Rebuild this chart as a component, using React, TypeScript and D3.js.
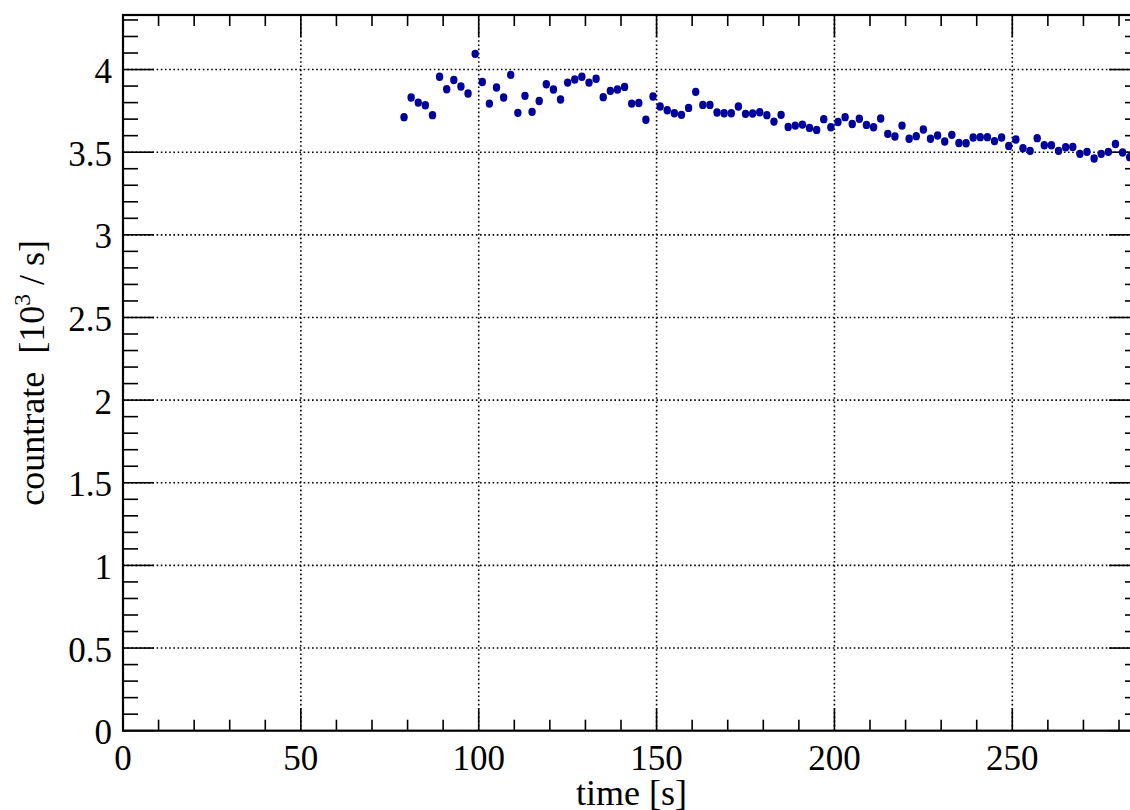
import React from "react";
import * as d3 from "d3";

const times: number[] = [
  79, 81, 83, 85, 87, 89, 91, 93, 95, 97, 99, 101, 103, 105, 107, 109, 111, 113, 115, 117,
  119, 121, 123, 125, 127, 129, 131, 133, 135, 137, 139, 141, 143, 145, 147, 149, 151, 153, 155, 157,
  159, 161, 163, 165, 167, 169, 171, 173, 175, 177, 179, 181, 183, 185, 187, 189, 191, 193, 195, 197,
  199, 201, 203, 205, 207, 209, 211, 213, 215, 217, 219, 221, 223, 225, 227, 229, 231, 233, 235, 237,
  239, 241, 243, 245, 247, 249, 251, 253, 255, 257, 259, 261, 263, 265, 267, 269, 271, 273, 275, 277,
  279, 281, 283,
];

const rates: number[] = [
  3.712, 3.831, 3.8, 3.784, 3.724, 3.956, 3.881, 3.937, 3.897, 3.855, 4.095, 3.925, 3.794, 3.891, 3.831, 3.968, 3.738, 3.841, 3.744, 3.81,
  3.911, 3.879, 3.819, 3.921, 3.94, 3.956, 3.921, 3.944, 3.833, 3.871, 3.879, 3.895, 3.794, 3.798, 3.696, 3.837, 3.776, 3.754, 3.736, 3.726,
  3.768, 3.865, 3.786, 3.786, 3.74, 3.736, 3.736, 3.776, 3.732, 3.734, 3.742, 3.724, 3.685, 3.726, 3.653, 3.661, 3.667, 3.647, 3.635, 3.7,
  3.651, 3.683, 3.712, 3.671, 3.702, 3.665, 3.651, 3.704, 3.611, 3.595, 3.661, 3.581, 3.597, 3.637, 3.581, 3.601, 3.565, 3.605, 3.556, 3.554,
  3.589, 3.591, 3.591, 3.567, 3.589, 3.538, 3.577, 3.524, 3.508, 3.585, 3.542, 3.542, 3.508, 3.53, 3.532, 3.49, 3.502, 3.462, 3.49, 3.502,
  3.55, 3.498, 3.47,
];

const xMajorTicks: number[] = [0, 50, 100, 150, 200, 250];
const yMajorTicks: number[] = [0, 0.5, 1, 1.5, 2, 2.5, 3, 3.5, 4];
const xTickLabels: string[] = ["0", "50", "100", "150", "200", "250"];
const yTickLabels: string[] = ["0", "0.5", "1", "1.5", "2", "2.5", "3", "3.5", "4"];
const xTitle = "time [s]";
const yTitleMain = "countrate\u00a0\u00a0[10";
const yTitleSup = "3";
const yTitleEnd = "\u00a0/\u00a0s]";

const W = 1130;
const H = 810;
const left = 123;
const right = 1140;
const top = 15;
const bottom = 730.7;
const xMax = 285.9;
const yMax = 4.33;
const dotColor = "#00009a";
const font = "'Liberation Serif', 'Times New Roman', serif";
const labelSize = 35;
const titleSize = 36;

export default function App() {
  const x = d3.scaleLinear().domain([0, xMax]).range([left, right]);
  const y = d3.scaleLinear().domain([0, yMax]).range([bottom, top]);

  const xMinor = d3.range(0, xMax, 10).filter((v) => v % 50 !== 0);
  const yMinor = d3.range(0, yMax + 1e-9, 0.1).map((v) => Math.round(v * 10) / 10).filter((v) => Math.round(v * 10) % 5 !== 0);

  const pts = times.map((t, i) => ({ t, v: rates[i] }));

  return (
    <svg
      width={W}
      height={H}
      style={{ position: "fixed", left: 0, top: 0, background: "#fff" }}
    >
      <rect x={0} y={0} width={W} height={H} fill="#fff" />
      {/* grid */}
      <g stroke="#000" strokeWidth={1.6} strokeDasharray="1.6,2.6">
        {xMajorTicks.filter((v) => v > 0).map((v) => (
          <line key={"gx" + v} x1={x(v)} x2={x(v)} y1={top} y2={bottom} />
        ))}
        {yMajorTicks.filter((v) => v > 0).map((v) => (
          <line key={"gy" + v} x1={left} x2={right} y1={y(v)} y2={y(v)} />
        ))}
      </g>
      {/* ticks */}
      <g stroke="#000" strokeWidth={1.6}>
        {xMajorTicks.map((v) => (
          <g key={"xt" + v}>
            <line x1={x(v)} x2={x(v)} y1={bottom} y2={bottom - 22} />
            <line x1={x(v)} x2={x(v)} y1={top} y2={top + 22} />
          </g>
        ))}
        {xMinor.map((v) => (
          <g key={"xm" + v}>
            <line x1={x(v)} x2={x(v)} y1={bottom} y2={bottom - 11} />
            <line x1={x(v)} x2={x(v)} y1={top} y2={top + 11} />
          </g>
        ))}
        {yMajorTicks.map((v) => (
          <g key={"yt" + v}>
            <line x1={left} x2={left + 31} y1={y(v)} y2={y(v)} />
            <line x1={right} x2={right - 31} y1={y(v)} y2={y(v)} />
          </g>
        ))}
        {yMinor.map((v) => (
          <g key={"ym" + v}>
            <line x1={left} x2={left + 15} y1={y(v)} y2={y(v)} />
            <line x1={right} x2={right - 15} y1={y(v)} y2={y(v)} />
          </g>
        ))}
      </g>
      {/* frame */}
      <rect x={left} y={top} width={right - left} height={bottom - top} fill="none" stroke="#000" strokeWidth={2.2} />
      {/* points */}
      <g fill={dotColor}>
        {pts.map((p) => (
          <ellipse key={"p" + p.t} cx={x(p.t)} cy={y(p.v)} rx={3.7} ry={4.2} />
        ))}
      </g>
      {/* tick labels */}
      <g fontFamily={font} fontSize={labelSize} fill="#000">
        {xMajorTicks.map((v, i) => (
          <text key={"xl" + v} x={x(v)} y={770} textAnchor="middle">
            {xTickLabels[i]}
          </text>
        ))}
        {yMajorTicks.map((v, i) => (
          <text key={"yl" + v} x={112} y={y(v) + 13.5} textAnchor="end">
            {yTickLabels[i]}
          </text>
        ))}
      </g>
      {/* titles */}
      <text x={(left + right) / 2} y={805} textAnchor="middle" fontFamily={font} fontSize={titleSize} fill="#000">
        {xTitle}
      </text>
      <text
        transform={`translate(43.5, ${(top + bottom) / 2}) rotate(-90)`}
        textAnchor="middle"
        fontFamily={font}
        fontSize={titleSize}
        fill="#000"
      >
        {yTitleMain}
        <tspan fontSize={titleSize * 0.65} dy={-14}>{yTitleSup}</tspan>
        <tspan dy={14}>{yTitleEnd}</tspan>
      </text>
    </svg>
  );
}
